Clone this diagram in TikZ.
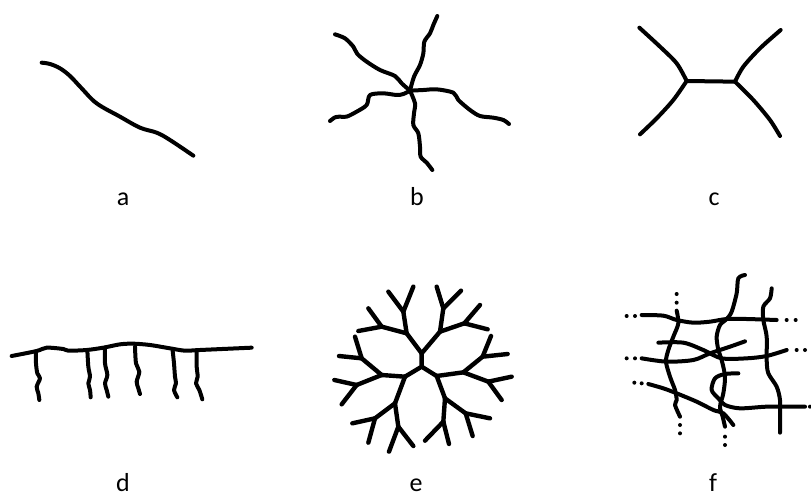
\documentclass[tikz,border=0pt]{standalone}
\usepackage{fontspec}
\setmainfont{Carlito}
\tikzset{
  fibre/.style={line width=4pt,line cap=round,line join=round},
  twig/.style={line width=4.4pt,line cap=round,line join=round},
  tag/.style={anchor=base,inner sep=0pt,text depth=0pt,font=\fontsize{26}{26}\selectfont},
}
\begin{document}
\begin{tikzpicture}[x=1pt,y=-1pt]
\useasboundingbox (0,0) rectangle (811,496);
% ---- a: one long fibre ----
\begin{scope}[scale=1/3]
\draw[fibre] plot[smooth,tension=0.6] coordinates {(125,188) (150,192) (180,205) (210,228) (245,265) (290,310) (360,350) (420,383) (470,398) (510,420) (580,467)};
\end{scope}
\node[tag] (la) at (123,205) {a};
% ---- b: five wavy arms from one point ----
\begin{scope}[shift={(270,0)},scale=1/3]
\coordinate (bc) at (420,272);
\draw[fibre] plot[smooth,tension=0.5] coordinates {(bc) (395,250) (375,228) (330,210) (290,185) (262,162) (250,140) (225,115) (195,103)};
\draw[fibre] plot[smooth,tension=0.5] coordinates {(bc) (432,230) (450,195) (460,160) (463,125) (480,100) (490,75) (502,48)};
\draw[fibre] plot[smooth,tension=0.5] coordinates {(bc) (460,270) (500,268) (550,278) (565,300) (600,330) (630,348) (670,353) (700,360) (717,372)};
\draw[fibre] plot[smooth,tension=0.5] coordinates {(bc) (435,310) (432,340) (430,375) (445,400) (450,440) (452,470) (470,488) (487,510)};
\draw[fibre] plot[smooth,tension=0.5] coordinates {(bc) (400,282) (380,285) (340,280) (300,285) (290,315) (260,335) (230,350) (210,350) (195,352) (180,363)};
\end{scope}
\node[tag] (lb) at (417,205) {b};
% ---- c: two junctions joined by a bar ----
\begin{scope}[shift={(540,0)},scale=1/3]
\coordinate (cl) at (440,243);
\coordinate (cr) at (585,245);
\draw[fibre] plot[smooth,tension=0.5] coordinates {(298,83) (360,140) (410,190) (cl)};
\draw[fibre] plot[smooth,tension=0.5] coordinates {(cl) (400,300) (350,355) (300,403)};
\draw[fibre] plot[smooth,tension=0.5] coordinates {(722,90) (660,145) (610,200) (cr)};
\draw[fibre] plot[smooth,tension=0.5] coordinates {(cr) (640,300) (690,360) (720,408)};
\draw[fibre] (cl) -- (cr);
\end{scope}
\node[tag] (lc) at (714,205) {c};
% ---- d: a long fibre with hanging roots ----
\begin{scope}[shift={(0,250)},scale=1/3]
\draw[fibre] plot[smooth,tension=0.5] coordinates {(35,318) (110,303) (140,293) (190,297) (205,302) (260,300) (310,293) (360,283) (400,281) (450,285) (510,295) (555,302) (600,300) (755,293)};
\draw[fibre] plot[smooth,tension=0.5] coordinates {(108,305) (108,340) (112,370) (120,385) (110,410) (115,430) (118,450)};
\draw[fibre] plot[smooth,tension=0.5] coordinates {(262,300) (265,350) (270,380) (265,400) (270,420) (272,442)};
\draw[fibre] plot[smooth,tension=0.5] coordinates {(315,293) (315,340) (322,375) (315,400) (320,420) (325,440)};
\draw[fibre] plot[smooth,tension=0.5] coordinates {(405,290) (408,340) (418,365) (410,395) (415,415) (420,432)};
\draw[fibre] plot[smooth,tension=0.5] coordinates {(518,302) (522,340) (525,380) (528,400) (522,420) (532,442)};
\draw[fibre] plot[smooth,tension=0.5] coordinates {(590,302) (590,350) (593,380) (588,400) (598,420) (607,448)};
\end{scope}
\node[tag] (ld) at (123,491) {d};
% ---- e: branching tree, three main limbs ----
\begin{scope}[shift={(300,250)},scale=1/3]
\coordinate (e0) at (365,350);  \coordinate (eU) at (365,310);
\coordinate (eLL) at (315,380); \coordinate (eLR) at (410,378);
\coordinate (eUL) at (320,250); \coordinate (eUR) at (420,245);
\coordinate (eUL1) at (310,185); \coordinate (eUL2) at (245,230);
\coordinate (eUR1) at (430,175); \coordinate (eUR2) at (493,220);
\coordinate (eLR1) at (490,367); \coordinate (eLR2) at (435,445);
\coordinate (eLL1) at (245,375); \coordinate (eLL2) at (285,460);
\coordinate (eLR1a) at (548,320); \coordinate (eLR1b) at (565,395);
\coordinate (eLR2a) at (497,490); \coordinate (eLR2b) at (430,515);
\coordinate (eLL1a) at (185,325); \coordinate (eLL1b) at (170,405);
\coordinate (eLL2a) at (295,530); \coordinate (eLL2b) at (225,505);
\draw[twig] (eLL) -- (e0) -- (eLR) (e0) -- (eU);
\foreach \p/\q in {eU/eUL,eU/eUR,eUL/eUL1,eUL/eUL2,eUR/eUR1,eUR/eUR2,
                   eLR/eLR1,eLR/eLR2,eLR1/eLR1a,eLR1/eLR1b,eLR2/eLR2a,eLR2/eLR2b,
                   eLL/eLL1,eLL/eLL2,eLL1/eLL1a,eLL1/eLL1b,eLL2/eLL2a,eLL2/eLL2b}
  \draw[twig] (\p) -- (\q);
% tips
\foreach \n/\x/\y in {eUL1/265/125,eUL1/340/110,eUL2/205/175,eUL2/175/243,
                      eUR1/410/110,eUR1/483/122,eUR2/540/165,eUR2/563/238,
                      eLR1a/573/258,eLR1a/623/312,eLR1b/635/380,eLR1b/605/450,
                      eLR2a/570/505,eLR2a/518/558,eLR2b/447/582,eLR2b/375/572,
                      eLL1a/165/260,eLL1a/117/318,eLL1b/103/390,eLL1b/125/463,
                      eLL2a/340/588,eLL2a/267/605,eLL2b/157/520,eLL2b/205/578}
  \draw[twig] (\n) -- (\x,\y);
\end{scope}
\node[tag] (le) at (416,491) {e};
% ---- f: network running on past the edges ----
\begin{scope}[shift={(540,250)},scale=1/3]
\draw[fibre] plot[smooth,tension=0.5] coordinates {(305,195) (370,197) (410,210) (460,218) (510,215) (560,207) (620,207) (710,210)};
\draw[fibre] plot[smooth,tension=0.5] coordinates {(410,182) (415,220) (400,260) (385,300) (378,335) (390,380) (405,420) (410,450) (405,465) (420,500)};
\draw[fibre] plot[smooth,tension=0.5] coordinates {(355,278) (430,278) (490,300) (545,325) (620,325) (680,318) (740,300)};
\draw[fibre] plot[smooth,tension=0.5] coordinates {(305,325) (380,335) (460,330) (510,310) (570,290) (615,274)};
\draw[fibre] plot[smooth,tension=0.5] coordinates {(615,75) (595,85) (590,130) (575,185) (560,207) (540,225) (530,260) (535,300) (545,330) (555,380) (550,430) (540,470) (548,500) (555,530)};
\draw[fibre] plot[smooth,tension=0.5] coordinates {(695,115) (690,145) (670,170) (670,210) (680,260) (680,330) (685,370) (710,410) (720,450) (720,500) (720,548)};
\draw[fibre] plot[smooth,tension=0.5] coordinates {(595,370) (555,372) (525,385) (515,420) (535,445) (555,465) (600,475) (680,470) (760,470) (795,470)};
\draw[fibre] plot[smooth,tension=0.5] coordinates {(325,402) (370,415) (410,430) (470,455) (520,480) (550,490) (580,525)};
% dotted run-outs
\foreach \x/\y in {260/198,285/198,740/210,767/210,260/325,285/325,770/300,795/300,
                   283/398,305/400,410/132,410/158,420/525,420/550,555/560,555/585,810/470}
  \fill (\x,\y) circle[radius=6];
\end{scope}
\node[tag] (lf) at (713,491) {f};
\end{tikzpicture}
\end{document}
